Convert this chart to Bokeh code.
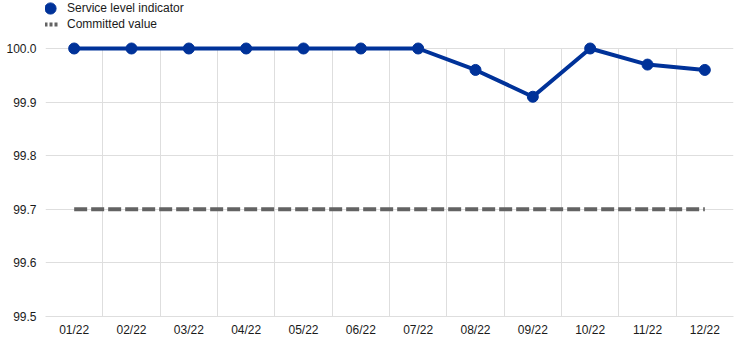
from bokeh.plotting import figure
from bokeh.models import FixedTicker, Legend, LegendItem, NumeralTickFormatter, Range1d
from bokeh.embed import file_html
from bokeh.resources import INLINE

months = ["01/22", "02/22", "03/22", "04/22", "05/22", "06/22",
          "07/22", "08/22", "09/22", "10/22", "11/22", "12/22"]
service_level = [100.0, 100.0, 100.0, 100.0, 100.0, 100.0,
                 100.0, 99.96, 99.91, 100.0, 99.97, 99.96]
committed = [99.7] * 12
y_ticks = [99.5, 99.6, 99.7, 99.8, 99.9, 100.0]

xs = [i + 0.5 for i in range(len(months))]

FONT = "Liberation Sans"
BLUE = "#003299"
GREY = "#636363"
GRID = "#dedede"

Y0, Y1 = 99.5, 100.0
# frame spans 316 px; the 99.5..100.0 band occupies the lower 268 px
y_top = Y1 + (Y1 - Y0) * 48 / 268

p = figure(width=744, height=344, output_backend="svg", toolbar_location=None,
           x_range=Range1d(0, len(months)), y_range=Range1d(Y0, y_top),
           min_border_left=45, min_border_right=11, min_border_top=0, min_border_bottom=28)
p.outline_line_color = None
p.background_fill_color = "white"
p.border_fill_color = "white"

p.line(xs, committed, line_color=GREY, line_width=4, line_dash="13 4")
p.line(xs, service_level, line_color=BLUE, line_width=4)
r_pts = p.scatter(xs, service_level, size=11, fill_color=BLUE, line_color=BLUE)
r_leg_comm = p.line([float("nan")], [float("nan")], line_color=GREY, line_width=4, line_dash="3 2")

# axes
p.xaxis.ticker = FixedTicker(ticks=xs)
p.xaxis.major_label_overrides = {x: m for x, m in zip(xs, months)}
p.xaxis.axis_line_color = GRID
p.xaxis.major_tick_line_color = None
p.xaxis.minor_tick_line_color = None
p.xaxis.major_tick_out = 0
p.xaxis.major_label_standoff = 6
p.yaxis.ticker = FixedTicker(ticks=y_ticks)
p.yaxis.formatter = NumeralTickFormatter(format="0.0")
p.yaxis.axis_line_color = None
p.yaxis.major_tick_line_color = None
p.yaxis.minor_tick_line_color = None
p.yaxis.major_tick_out = 0
p.yaxis.major_label_standoff = 9
for ax in (p.xaxis, p.yaxis):
    ax.major_label_text_font = FONT
    ax.major_label_text_font_size = "12px"
    ax.major_label_text_color = "#1a1a1a"

p.xgrid.ticker = FixedTicker(ticks=list(range(len(months) + 1)))
p.xgrid.cross_bounds = (Y0, Y1)
p.xgrid.grid_line_color = GRID
p.ygrid.ticker = FixedTicker(ticks=y_ticks)
p.ygrid.grid_line_color = GRID


def style(lg, gw, gh, standoff):
    lg.border_line_color = None
    lg.background_fill_alpha = 0
    lg.padding = 0
    lg.margin = 0
    lg.spacing = 0
    lg.glyph_height = gh
    lg.glyph_width = gw
    lg.label_height = gh
    lg.label_standoff = standoff
    lg.label_text_font = FONT
    lg.label_text_font_size = "12px"
    lg.label_text_color = "#1a1a1a"
    lg.label_text_baseline = "middle"


# location = bottom-left corner of the legend box, in px from the frame's bottom-left
leg1 = Legend(items=[LegendItem(label="Service level indicator", renderers=[r_pts])],
              location=(-9, 294), orientation="vertical")
style(leg1, 28, 28, 3)
leg2 = Legend(items=[LegendItem(label="Committed value", renderers=[r_leg_comm])],
              location=(-1, 284), orientation="vertical")
style(leg2, 14, 16, 9)
p.add_layout(leg1, "center")
p.add_layout(leg2, "center")

open("out.html", "w").write(file_html(p, INLINE))
